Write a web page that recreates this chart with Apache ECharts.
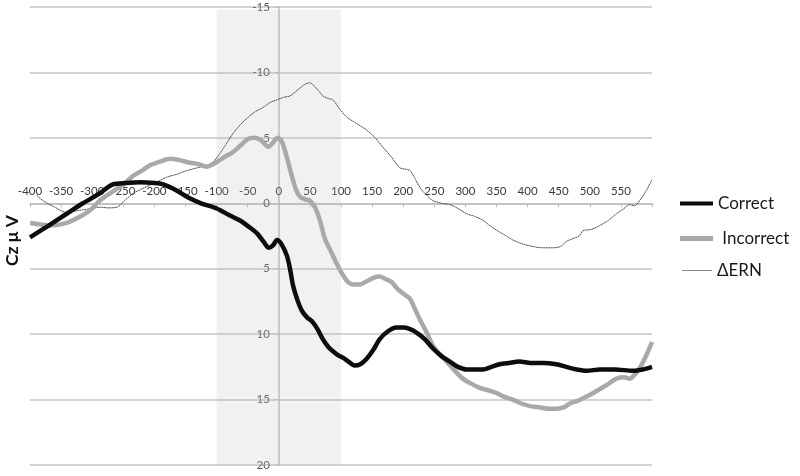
<!DOCTYPE html>
<html><head><meta charset="utf-8">
<script src="https://cdn.jsdelivr.net/npm/echarts@6/dist/echarts.min.js"></script>
<style>html,body{margin:0;padding:0;background:#fff}#c{width:800px;height:476px}</style>
</head><body><div id="c"></div>
<script>
const xTicks = [-400,-350,-300,-250,-200,-150,-100,-50,0,50,100,150,200,250,300,350,400,450,500,550];
const yTicks = [-15,-10,-5,0,5,10,15,20];
const shadeRange = [-100, 100];
const correct = [[-400,2.6],[-370,1.7],[-341,0.8],[-315,0],[-288,-0.75],[-267,-1.45],[-245,-1.55],[-223,-1.6],[-200,-1.55],[-186,-1.45],[-165,-1.0],[-148,-0.5],[-125,0],[-100,0.4],[-80,0.9],[-63,1.3],[-48,1.8],[-35,2.3],[-25,2.9],[-16,3.4],[-9,3.2],[-3,2.8],[4,3.1],[13,4.0],[18,5.0],[23,6.3],[30,7.4],[37,8.2],[45,8.7],[53,9.0],[62,9.6],[71,10.4],[80,11.0],[87,11.3],[95,11.6],[103,11.8],[112,12.1],[122,12.4],[131,12.3],[141,11.9],[152,11.2],[162,10.4],[175,9.8],[189,9.5],[200,9.5],[210,9.6],[222,9.9],[235,10.4],[248,11.1],[262,11.7],[275,12.1],[288,12.5],[302,12.7],[315,12.7],[328,12.7],[342,12.5],[355,12.3],[370,12.2],[387,12.1],[405,12.2],[425,12.2],[446,12.3],[462,12.5],[479,12.7],[495,12.8],[516,12.7],[540,12.7],[570,12.8],[585,12.7],[600,12.5]];
const incorrect = [[-400,1.5],[-385,1.6],[-368,1.7],[-341,1.5],[-315,0.9],[-300,0.4],[-288,-0.2],[-270,-0.8],[-251,-1.4],[-234,-2.1],[-220,-2.5],[-207,-2.9],[-190,-3.2],[-175,-3.4],[-160,-3.3],[-143,-3.1],[-130,-3.0],[-116,-2.8],[-105,-3.0],[-95,-3.3],[-85,-3.6],[-74,-3.9],[-62,-4.4],[-50,-4.9],[-40,-5.0],[-31,-4.9],[-24,-4.6],[-17,-4.3],[-10,-4.6],[-2,-5.0],[5,-4.7],[13,-3.5],[18,-2.6],[23,-1.75],[28,-1.0],[34,-0.5],[42,-0.3],[50,-0.2],[58,0.3],[64,1.0],[69,1.8],[74,2.7],[83,3.6],[93,4.6],[102,5.4],[111,6.0],[120,6.2],[130,6.2],[140,6.0],[152,5.7],[162,5.6],[172,5.8],[181,6.0],[190,6.5],[200,6.9],[211,7.3],[220,8.2],[227,8.9],[238,9.9],[248,10.9],[260,11.6],[270,12.1],[283,12.8],[296,13.4],[310,13.8],[323,14.1],[337,14.3],[350,14.5],[363,14.8],[376,15.0],[390,15.3],[404,15.5],[420,15.6],[436,15.7],[447,15.7],[458,15.6],[468,15.3],[480,15.1],[489,14.9],[502,14.6],[516,14.2],[530,13.8],[543,13.4],[555,13.3],[564,13.4],[572,13.1],[580,12.6],[587,12.0],[592,11.5],[600,10.6]];
const dERN = [[-389,-0.6],[-379,-0.2],[-360,0.3],[-341,0.7],[-328,0.6],[-315,0.5],[-300,0.4],[-288,0.3],[-274,0.35],[-260,0.3],[-248,-0.2],[-234,-0.75],[-220,-1.1],[-207,-1.4],[-193,-1.7],[-180,-2.0],[-165,-2.2],[-148,-2.5],[-132,-2.7],[-116,-2.9],[-105,-3.2],[-95,-3.8],[-85,-4.5],[-74,-5.3],[-62,-6.0],[-51,-6.5],[-38,-7.0],[-26,-7.3],[-14,-7.7],[-3,-7.9],[8,-8.1],[18,-8.2],[26,-8.5],[34,-8.8],[42,-9.1],[50,-9.2],[58,-8.9],[64,-8.6],[71,-8.2],[80,-8.0],[87,-7.9],[98,-7.2],[109,-6.6],[125,-6.1],[141,-5.6],[155,-5.0],[167,-4.3],[180,-3.6],[195,-2.7],[205,-2.6],[211,-2.5],[220,-1.8],[227,-1.2],[238,-0.6],[248,-0.2],[262,0.0],[275,0.1],[288,0.4],[302,0.8],[315,1.0],[328,1.3],[342,1.8],[355,2.2],[366,2.5],[376,2.8],[392,3.1],[408,3.3],[425,3.4],[441,3.4],[453,3.3],[463,2.9],[473,2.7],[483,2.5],[489,2.1],[502,2.0],[516,1.7],[530,1.3],[543,0.8],[555,0.4],[564,0.1],[572,0.2],[580,-0.2],[590,-0.9],[600,-1.8]];

const FONT = 'Lato, "Open Sans", sans-serif';
const GRID = {left:30, right:148, top:7, bottom:11};
const W = 800, H = 476;
const X_MIN = -400, X_MAX = 600, Y_MIN = -15, Y_MAX = 20;
// axis crossing offsets (axes cross at zero, like the original)
const gridW = W - GRID.left - GRID.right, gridH = H - GRID.top - GRID.bottom;
const yAxisOffset = -((0 - X_MIN) / (X_MAX - X_MIN)) * gridW;
const xAxisOffset = -((0 - Y_MIN) / (Y_MAX - Y_MIN)) * gridH;

const chart = echarts.init(document.getElementById('c'));
const legendBase = {orient:'vertical', padding:0, itemWidth:33, icon:'rect', selectedMode:false,
  textStyle:{fontFamily:FONT, fontSize:17, color:'#1a1a1a'}};
chart.setOption({
  animation:false,
  grid:GRID,
  xAxis:{type:'value', min:X_MIN, max:X_MAX, interval:50, position:'top', offset:xAxisOffset,
    axisLine:{onZero:false, lineStyle:{color:'#bdbdbd', width:1.5}},
    axisTick:{show:true, inside:true, length:4, lineStyle:{color:'#bdbdbd'}},
    axisLabel:{margin:6, fontFamily:FONT, fontSize:11.5, color:'#3a3a3a',
      formatter:v => xTicks.includes(v) ? String(v) : ''},
    splitLine:{show:false}},
  yAxis:{type:'value', inverse:true, min:Y_MIN, max:Y_MAX, interval:5, position:'left', offset:yAxisOffset,
    axisLine:{show:true, onZero:false, lineStyle:{color:'#bdbdbd', width:1.5}},
    axisTick:{show:true, length:4, lineStyle:{color:'#bdbdbd'}},
    axisLabel:{margin:9, fontFamily:FONT, fontSize:11.5, color:'#595959',
      formatter:v => yTicks.includes(v) ? String(v) : ''},
    splitLine:{show:true, lineStyle:{color:'#c4c4c4', width:1.5}}},
  legend:[
    Object.assign({}, legendBase, {left:680, top:195, itemHeight:4, data:[{name:'Correct'}]}),
    Object.assign({}, legendBase, {left:680, top:230, itemHeight:5, data:[{name:' Incorrect'}]}),
    Object.assign({}, legendBase, {left:682, top:262, itemWidth:30, itemHeight:1, data:[{name:'ΔERN'}]})
  ],
  graphic:[{type:'text', x:21, y:266, rotation:Math.PI/2,
    style:{text:'Cz μ V', font:'bold 17.5px '+FONT, fill:'#111', align:'left', verticalAlign:'bottom'}}],
  series:[
    {name:'ΔERN', type:'line', data:dERN, symbol:'none', smooth:0.3, z:3,
      itemStyle:{color:'#8a8a8a'},
      lineStyle:{color:'#4d4d4d', width:1, type:[2,0.5]}},
    {name:' Incorrect', type:'line', data:incorrect, symbol:'none', smooth:0.3, z:4,
      itemStyle:{color:'#a9a9a9'},
      lineStyle:{color:'#a9a9a9', width:4.5}},
    {name:'Correct', type:'line', data:correct, symbol:'none', smooth:0.3, z:5,
      itemStyle:{color:'#0d0d0d'},
      lineStyle:{color:'#0d0d0d', width:4.5}},
    {name:'shade', type:'line', data:[], z:10, silent:true,
      markArea:{silent:true, itemStyle:{color:'rgba(185,185,185,0.2)'},
        data:[[{xAxis:shadeRange[0], yAxis:-14.8},{xAxis:shadeRange[1], yAxis:20}]]}}
  ]
});
</script></body></html>
